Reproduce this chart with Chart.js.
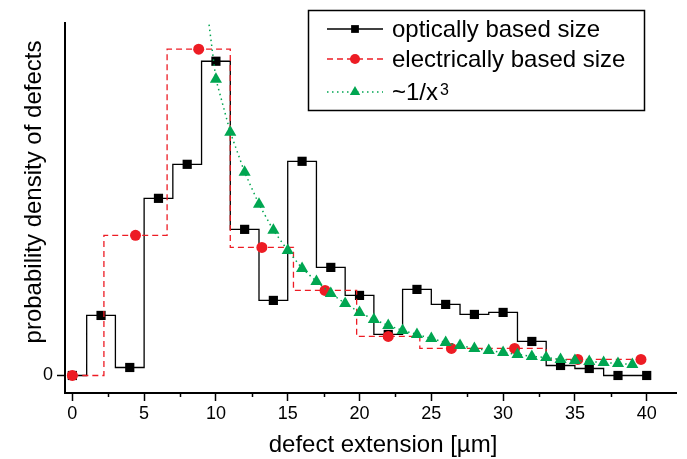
<!DOCTYPE html>
<html>
<head>
<meta charset="utf-8">
<script src="https://cdn.jsdelivr.net/npm/chart.js@4.4.1/dist/chart.umd.min.js"></script>
<style>
  html, body { margin: 0; padding: 0; background: #fff; }
  #wrap { width: 687px; height: 459px; }
</style>
</head>
<body>
<div id="wrap"><canvas id="chart" width="687" height="459"></canvas></div>
<script>
// optically based size (bins of width 2)
var optX = [0, 2, 4, 6, 8, 10, 12, 14, 16, 18, 20, 22, 24, 26, 28, 30, 32, 34, 36, 38, 40];
var optY = [0, 0.060, 0.008, 0.177, 0.211, 0.314, 0.146, 0.075, 0.214, 0.108, 0.080,
            0.041, 0.086, 0.071, 0.061, 0.063, 0.034, 0.010, 0.007, 0, 0];

// electrically based size (bins of width 4.4)
var elecX = [0, 4.4, 8.8, 13.2, 17.6, 22, 26.4, 30.8, 35.2, 39.6];
var elecY = [0, 0.140, 0.326, 0.128, 0.085, 0.039, 0.027, 0.027, 0.016, 0.016];

// ~1/x^3 guide
var fitX = [9, 10, 11, 12, 13, 14, 15, 16, 17, 18, 19, 20, 21, 22, 23, 24,
            25, 26, 27, 28, 29, 30, 31, 32, 33, 34, 35, 36, 37, 38, 39];
var fitY = [0.410, 0.296, 0.243, 0.203, 0.171, 0.145, 0.125, 0.107, 0.094, 0.082, 0.072,
            0.063, 0.056, 0.050, 0.045, 0.041, 0.037, 0.033, 0.030, 0.027, 0.025,
            0.023, 0.021, 0.019, 0.018, 0.016, 0.015, 0.014, 0.013, 0.012, 0.011];

var xMajorTicks = [0, 5, 10, 15, 20, 25, 30, 35, 40];
var xMinorTicks = [2.5, 7.5, 12.5, 17.5, 22.5, 27.5, 32.5, 37.5];
var yTicks = [0];

var xTitle = 'defect extension [µm]';
var yTitle = 'probability density of defects';

var FONT = '"Liberation Sans", Arial, Helvetica, sans-serif';
var RED = '#ed1c24';
var GREEN = '#00a651';

function pts(xs, ys) {
  return xs.map(function (x, i) { return { x: x, y: ys[i] }; });
}

var decorPlugin = {
  id: 'decor',
  afterDraw: function (chart) {
    var ctx = chart.ctx;
    var xs = chart.scales.x;
    var bottom = chart.chartArea.bottom;
    ctx.save();

    // minor ticks on x
    ctx.strokeStyle = '#000';
    ctx.lineWidth = 1.5;
    xMinorTicks.forEach(function (v) {
      var px = Math.round(xs.getPixelForValue(v)) + 0.5;
      ctx.beginPath();
      ctx.moveTo(px, bottom);
      ctx.lineTo(px, bottom + 4);
      ctx.stroke();
    });

    // axis titles
    ctx.fillStyle = '#000';
    ctx.font = '24px ' + FONT;
    ctx.textAlign = 'center';
    ctx.textBaseline = 'middle';
    ctx.fillText(xTitle, 383, 445);
    ctx.save();
    ctx.translate(34, 192);
    ctx.rotate(-Math.PI / 2);
    ctx.fillText(yTitle, 0, 0);
    ctx.restore();

    // legend box
    ctx.lineWidth = 1.5;
    ctx.strokeStyle = '#000';
    ctx.strokeRect(308.5, 10.5, 336, 100);

    var rows = [37, 67, 100];
    var order = [2, 1, 0]; // dataset index: black, red, green
    order.forEach(function (di, r) {
      var ds = chart.data.datasets[di];
      var y = rows[r] - 8;
      ctx.save();
      ctx.strokeStyle = ds.borderColor;
      ctx.lineWidth = ds.borderWidth;
      ctx.setLineDash(ds.borderDash || []);
      ctx.beginPath();
      ctx.moveTo(327, y);
      ctx.lineTo(383, y);
      ctx.stroke();
      ctx.setLineDash([]);
      ctx.fillStyle = ds.pointBackgroundColor;
      ctx.strokeStyle = ds.pointBackgroundColor;
      Chart.helpers.drawPoint(ctx, {
        pointStyle: ds.pointStyle,
        radius: ds.legendRadius,
        rotation: 0,
        borderWidth: 0
      }, 355, y);
      ctx.restore();

      ctx.fillStyle = '#000';
      ctx.textAlign = 'left';
      ctx.textBaseline = 'alphabetic';
      if (ds.label === '~1/x3') {
        ctx.font = '24px ' + FONT;
        ctx.fillText('~1/x', 392, rows[r]);
        var w = ctx.measureText('~1/x').width;
        ctx.font = '16px ' + FONT;
        ctx.fillText('3', 392 + w + 2, rows[r] - 5);
      } else {
        ctx.font = '24px ' + FONT;
        ctx.fillText(ds.label, 392, rows[r]);
      }
    });

    ctx.restore();
  }
};

new Chart(document.getElementById('chart'), {
  type: 'line',
  data: {
    datasets: [
      {
        label: '~1/x3',
        data: pts(fitX, fitY),
        borderColor: GREEN,
        borderWidth: 1.5,
        borderDash: [1.5, 3.5],
        pointStyle: 'triangle',
        pointRadius: 7,
        legendRadius: 6,
        pointBackgroundColor: GREEN,
        pointBorderWidth: 0,
        order: 0
      },
      {
        label: 'electrically based size',
        data: pts(elecX, elecY),
        stepped: 'middle',
        borderColor: RED,
        borderWidth: 1.3,
        borderDash: [6, 4],
        pointStyle: 'circle',
        pointRadius: 5.5,
        legendRadius: 5,
        pointBackgroundColor: RED,
        pointBorderWidth: 0,
        order: 1
      },
      {
        label: 'optically based size',
        data: pts(optX, optY),
        stepped: 'middle',
        borderColor: '#000',
        borderWidth: 1.3,
        pointStyle: 'rect',
        pointRadius: 6.5,
        legendRadius: 5.5,
        pointBackgroundColor: '#000',
        pointBorderWidth: 0,
        order: 2
      }
    ]
  },
  options: {
    responsive: false,
    animation: false,
    devicePixelRatio: 1,
    layout: { padding: { top: 23, right: 11, left: 0, bottom: 0 } },
    plugins: {
      legend: { display: false },
      tooltip: { enabled: false }
    },
    scales: {
      x: {
        type: 'linear',
        min: -0.51,
        max: 42.04,
        afterBuildTicks: function (scale) {
          scale.ticks = xMajorTicks.map(function (v) { return { value: v }; });
        },
        afterFit: function (scale) { scale.height = 66; },
        ticks: {
          autoSkip: false,
          maxRotation: 0,
          padding: 2,
          color: '#000',
          font: { family: FONT, size: 18 },
          callback: function (v) { return String(v); }
        },
        grid: { drawOnChartArea: false, tickLength: 8, tickColor: '#000', tickWidth: 1.5 },
        border: { color: '#000', width: 2 }
      },
      y: {
        min: -0.0175,
        max: 0.3522,
        afterBuildTicks: function (scale) {
          scale.ticks = yTicks.map(function (v) { return { value: v }; });
        },
        afterFit: function (scale) { scale.width = 65; },
        ticks: {
          padding: 4,
          color: '#000',
          font: { family: FONT, size: 18 },
          callback: function (v) { return String(v); }
        },
        grid: { drawOnChartArea: false, tickLength: 8, tickColor: '#000', tickWidth: 1.5 },
        border: { color: '#000', width: 2 }
      }
    }
  },
  plugins: [decorPlugin]
});
</script>
</body>
</html>
